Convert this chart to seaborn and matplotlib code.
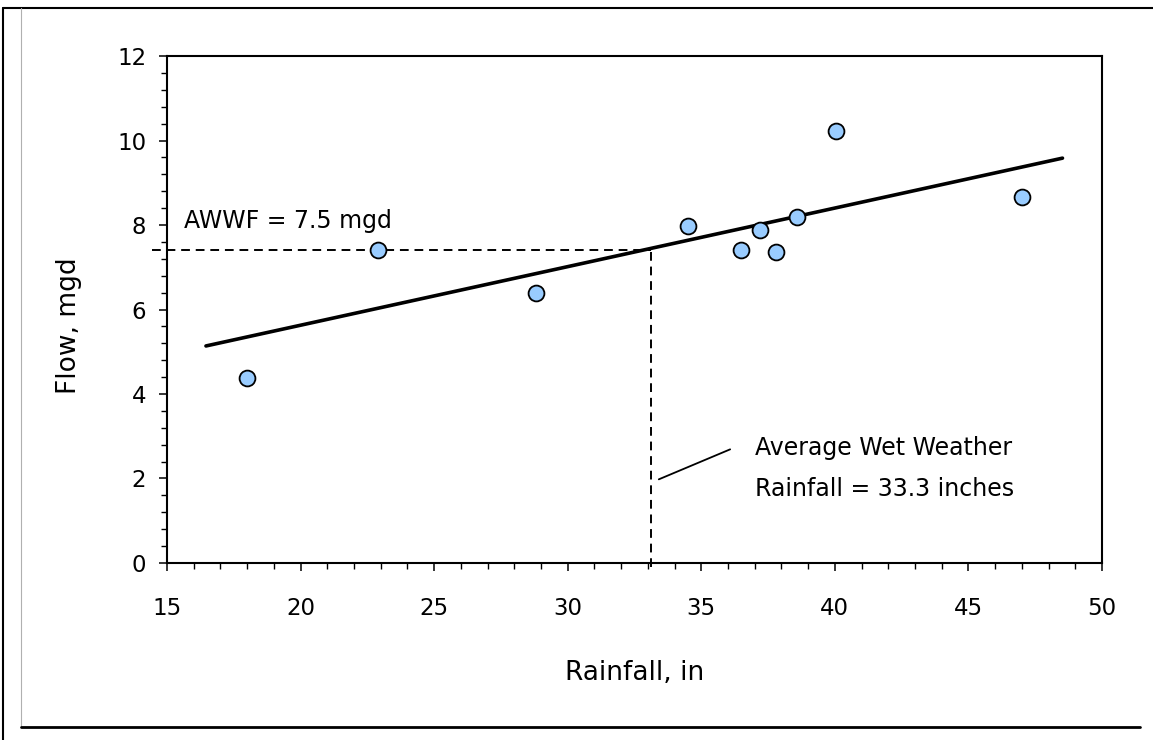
import numpy as np
import pandas as pd
import matplotlib
matplotlib.use("Agg")
import matplotlib.pyplot as plt
from matplotlib.lines import Line2D
from matplotlib.ticker import MultipleLocator
import seaborn as sns

# ---- data ----
rainfall_in = [18.0, 22.9, 28.8, 34.5, 36.5, 37.2, 37.8, 38.6, 40.05, 47.0]
flow_mgd = [4.37, 7.41, 6.40, 7.98, 7.41, 7.88, 7.37, 8.18, 10.22, 8.66]
fit_x_range = [16.46, 48.52]
avg_wet_rainfall = 33.1
awwf_level = 7.42
x_ticks = [15, 20, 25, 30, 35, 40, 45, 50]
y_ticks = [0, 2, 4, 6, 8, 10, 12]
awwf_label = "AWWF = 7.5 mgd"
rain_label_1 = "Average Wet Weather"
rain_label_2 = "Rainfall = 33.3 inches"
pointer_x = [33.41, 36.08]
pointer_y = [1.98, 2.69]

df = pd.DataFrame({"Rainfall": rainfall_in, "Flow": flow_mgd})
slope, intercept = np.polyfit(df["Rainfall"], df["Flow"], 1)
fit_df = pd.DataFrame({"x": fit_x_range})
fit_df["y"] = intercept + slope * fit_df["x"]

sns.set_theme(style="ticks")
plt.rcParams["font.family"] = ["DejaVu Sans"]
plt.rcParams["text.color"] = "black"
plt.rcParams["axes.labelcolor"] = "black"
plt.rcParams["xtick.color"] = "black"
plt.rcParams["ytick.color"] = "black"

fig = plt.figure(figsize=(11.53, 7.40), dpi=100)
ax = fig.add_axes([0.1448, 0.2392, 0.8110, 0.6851])

# regression line
sns.lineplot(data=fit_df, x="x", y="y", color="black", linewidth=2.6, ax=ax, zorder=3)

# reference dashed lines
ax.plot([14.45, avg_wet_rainfall], [awwf_level, awwf_level], color="black",
        linewidth=1.4, linestyle=(0, (4.5, 3.0)), clip_on=False, zorder=2)
ax.plot([avg_wet_rainfall, avg_wet_rainfall],
        [-0.1, intercept + slope * avg_wet_rainfall], color="black",
        linewidth=1.4, linestyle=(0, (4.5, 3.0)), clip_on=False, zorder=2)

# points
sns.scatterplot(data=df, x="Rainfall", y="Flow", s=130, color="#99CCFF",
                edgecolor="black", linewidth=1.3, ax=ax, zorder=4)

# annotations
ax.plot(pointer_x, pointer_y, color="black", linewidth=1.3)
ax.text(15.64, 7.92, awwf_label, fontsize=17, va="baseline", ha="left", color="black")
ax.text(37.01, 2.56, rain_label_1, fontsize=17, va="baseline", ha="left", color="black")
ax.text(37.01, 1.59, rain_label_2, fontsize=17, va="baseline", ha="left", color="black")

ax.set_xlim(15, 50)
ax.set_ylim(0, 12)
ax.set_xticks(x_ticks)
ax.set_yticks(y_ticks)
ax.xaxis.set_minor_locator(MultipleLocator(1))
ax.yaxis.set_minor_locator(MultipleLocator(0.4))
ax.tick_params(axis="both", which="major", direction="out", length=6,
               width=1.1, color="black", labelsize=16.5, labelcolor="black")
ax.tick_params(axis="both", which="minor", direction="out", length=4.2,
               width=1.0, color="black")
ax.tick_params(axis="x", which="major", pad=18.5)
ax.tick_params(axis="y", which="major", pad=9)

for sp in ax.spines.values():
    sp.set_visible(True)
    sp.set_linewidth(1.5)
    sp.set_color("black")

ax.set_xlabel("Rainfall, in", fontsize=19, color="black")
ax.set_ylabel("Flow, mgd", fontsize=19, color="black")
ax.xaxis.label.set_va("baseline")
ax.xaxis.set_label_coords(0.5, -0.231)
ax.yaxis.set_label_coords(-0.091, 0.469)
ax.grid(False)

# outer frame
fig.add_artist(Line2D([0.0026, 1.0], [0.9892, 0.9892], color="black", linewidth=1.5))
fig.add_artist(Line2D([0.0026, 0.0026], [0.0, 0.9892], color="black", linewidth=1.5))
fig.add_artist(Line2D([0.0182, 0.0182], [0.0176, 0.9892], color="#b0b0b0", linewidth=0.8))
fig.add_artist(Line2D([0.0182, 0.9887], [0.0176, 0.0176], color="black", linewidth=2.0))

fig.savefig("out.png", dpi=100, facecolor="white")
